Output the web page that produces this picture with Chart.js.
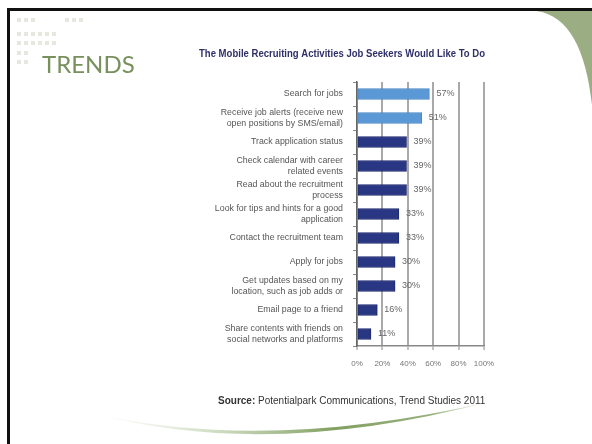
<!DOCTYPE html>
<html>
<head>
<meta charset="utf-8">
<script src="https://cdn.jsdelivr.net/npm/chart.js@4.4.1/dist/chart.umd.min.js"></script>
<style>
  html, body { margin: 0; padding: 0; background: #fff; }
  #wrap { width: 592px; height: 444px; position: relative; }
</style>
</head>
<body>
<div id="wrap"><canvas id="trendsChart" width="592" height="444"></canvas></div>
<script>
// Atividades de recrutamento móvel
const activities = [
  ["Search for jobs"],
  ["Receive job alerts (receive new", "open positions by SMS/email)"],
  ["Track application status"],
  ["Check calendar with career", "related events"],
  ["Read about the recruitment", "process"],
  ["Look for tips and hints for a good", "application"],
  ["Contact the recruitment team"],
  ["Apply for jobs"],
  ["Get updates based on my", "location, such as job adds or"],
  ["Email page to a friend"],
  ["Share contents with friends on", "social networks and platforms"],
];
const shares = [57, 51, 39, 39, 39, 33, 33, 30, 30, 16, 11];
const axisTicks = [0, 20, 40, 60, 80, 100];

const slideTitle = "TRENDS";
const chartTitle = "The Mobile Recruiting Activities Job Seekers Would Like To Do";
const sourceLabel = "Source:";
const sourceText = " Potentialpark Communications, Trend Studies 2011";

const LABEL_FONT = "'Liberation Sans', Arial, sans-serif";

// texto comprimido na horizontal para caber numa largura
function fitText(ctx, text, x, y, width) {
  const w = ctx.measureText(text).width;
  const k = Math.min(1, width / w);
  ctx.save();
  ctx.translate(x, y);
  ctx.scale(k, 1);
  ctx.fillText(text, 0, 0);
  ctx.restore();
  return w * k;
}

// fundo do slide: moldura, quadradinhos, canto verde e curva inferior
const slideDecor = {
  id: "slideDecor",
  beforeDraw(chart) {
    const ctx = chart.ctx;
    ctx.save();
    ctx.fillStyle = "#ffffff";
    ctx.fillRect(0, 0, 592, 444);

    // canto verde
    ctx.fillStyle = "#9bae83";
    ctx.beginPath();
    ctx.moveTo(536, 11);
    ctx.bezierCurveTo(569, 15, 586, 50, 592, 105);
    ctx.lineTo(592, 11);
    ctx.closePath();
    ctx.fill();

    // moldura
    ctx.fillStyle = "#111";
    ctx.fillRect(7, 8, 585, 3);
    ctx.fillRect(7, 8, 3, 436);

    // quadradinhos decorativos
    ctx.fillStyle = "#e7e7df";
    const rows = [
      [18, [17, 24, 31, 65, 72, 79]],
      [32, [17, 24, 31, 38, 45, 52]],
      [41, [17, 24, 31, 38, 45, 52]],
      [51, [17, 24]],
      [60, [17, 24]],
    ];
    rows.forEach(([y, xs]) => xs.forEach((x) => ctx.fillRect(x, y, 4, 4)));

    // curva verde inferior
    const g = ctx.createLinearGradient(95, 0, 492, 0);
    g.addColorStop(0, "rgba(225,233,215,0)");
    g.addColorStop(0.3, "rgba(200,215,185,0.85)");
    g.addColorStop(0.6, "#82a061");
    g.addColorStop(0.85, "#98b17e");
    g.addColorStop(1, "rgba(220,230,210,0.3)");
    ctx.fillStyle = g;
    ctx.beginPath();
    ctx.moveTo(95, 414);
    ctx.quadraticCurveTo(272, 460, 492, 401);
    ctx.quadraticCurveTo(272, 453, 95, 414);
    ctx.closePath();
    ctx.fill();

    // título do slide
    ctx.fillStyle = "#78905c";
    ctx.font = "24px Lato, 'Open Sans', sans-serif";
    ctx.textBaseline = "alphabetic";
    fitText(ctx, slideTitle, 42, 73, 95);

    // título do gráfico
    ctx.fillStyle = "#2f3069";
    ctx.font = "bold 11px " + LABEL_FONT;
    fitText(ctx, chartTitle, 199, 57, 286);

    // fonte
    ctx.fillStyle = "#333";
    ctx.font = "bold 10px " + LABEL_FONT;
    const wb = fitText(ctx, sourceLabel, 218, 404, 38);
    ctx.font = "10px " + LABEL_FONT;
    fitText(ctx, sourceText, 218 + wb, 404, 275 - wb);
    ctx.restore();
  },
};

// rótulos de percentagem à direita das barras
const valueLabels = {
  id: "valueLabels",
  afterDatasetsDraw(chart) {
    const ctx = chart.ctx;
    const meta = chart.getDatasetMeta(0);
    ctx.save();
    ctx.fillStyle = "#666";
    ctx.font = "9px " + LABEL_FONT;
    ctx.textAlign = "left";
    ctx.textBaseline = "middle";
    meta.data.forEach((bar, i) => {
      ctx.fillText(shares[i] + "%", bar.x + 7, bar.y);
    });
    ctx.restore();
  },
};

new Chart(document.getElementById("trendsChart"), {
  type: "bar",
  data: {
    labels: activities,
    datasets: [
      {
        data: shares,
        backgroundColor: (c) => (c.dataIndex < 2 ? "#5b99d6" : "#283683"),
        borderColor: (c) => (c.dataIndex < 2 ? "#4a86c2" : "#1f2a6a"),
        borderWidth: 1,
        borderSkipped: false,
        barThickness: 11,
      },
    ],
  },
  options: {
    responsive: false,
    animation: false,
    indexAxis: "y",
    layout: { padding: { top: 82, right: 108, bottom: 68, left: 0 } },
    plugins: {
      legend: { display: false },
      tooltip: { enabled: false },
    },
    scales: {
      x: {
        min: 0,
        max: 100,
        afterFit: (scale) => { scale.height = 30; },
        afterBuildTicks: (scale) => {
          scale.ticks = axisTicks.map((v) => ({ value: v }));
        },
        ticks: {
          callback: (v) => v + "%",
          color: "#777",
          font: { family: LABEL_FONT, size: 8 },
          padding: 9,
          maxRotation: 0,
        },
        grid: {
          color: "#a9a9a9",
          lineWidth: 2,
          tickLength: 4,
          tickColor: "#888",
          tickWidth: 1,
        },
        border: { display: true, color: "#888", width: 1.5 },
      },
      y: {
        afterFit: (scale) => { scale.width = 357; },
        ticks: {
          color: "#555",
          font: { family: LABEL_FONT, size: 8.8, lineHeight: 1.2 },
          padding: 10,
          autoSkip: false,
        },
        grid: {
          drawOnChartArea: false,
          offset: true,
          tickLength: 4,
          color: "#888",
        },
        border: { display: true, color: "#666", width: 1.5 },
      },
    },
  },
  plugins: [slideDecor, valueLabels],
});
</script>
</body>
</html>
